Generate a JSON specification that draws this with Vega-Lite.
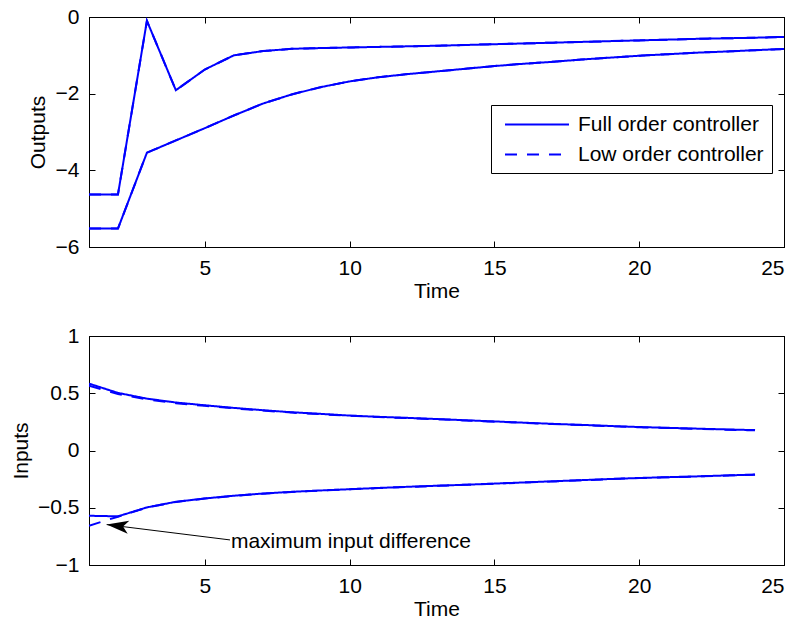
{
  "$schema": "https://vega.github.io/schema/vega-lite/v6.json",
  "background": "white",
  "padding": {"left": 10, "top": 5, "right": 10, "bottom": 4},
  "spacing": 22,
  "config": {
    "font": "Liberation Sans",
    "view": {"stroke": "black", "strokeWidth": 1},
    "axis": {
      "grid": false,
      "labelFont": "Liberation Sans",
      "titleFont": "Liberation Sans",
      "labelFontSize": 21,
      "titleFontSize": 21,
      "titleFontWeight": "normal",
      "labelColor": "black",
      "titleColor": "black",
      "domainColor": "black",
      "tickColor": "black",
      "tickSize": -6,
      "tickWidth": 1,
      "labelPadding": 16,
      "titlePadding": 2
    },
    "legend": {
      "labelFont": "Liberation Sans",
      "labelFontSize": 21,
      "labelColor": "black"
    }
  },
  "datasets": {
    "outputs": [
      {"t": 1, "y": -4.63, "s": "a", "ctrl": "Full order controller"},
      {"t": 2, "y": -4.63, "s": "a", "ctrl": "Full order controller"},
      {"t": 3, "y": -0.10, "s": "a", "ctrl": "Full order controller"},
      {"t": 4, "y": -1.91, "s": "a", "ctrl": "Full order controller"},
      {"t": 5, "y": -1.37, "s": "a", "ctrl": "Full order controller"},
      {"t": 6, "y": -1.00, "s": "a", "ctrl": "Full order controller"},
      {"t": 7, "y": -0.89, "s": "a", "ctrl": "Full order controller"},
      {"t": 8, "y": -0.83, "s": "a", "ctrl": "Full order controller"},
      {"t": 9, "y": -0.81, "s": "a", "ctrl": "Full order controller"},
      {"t": 10, "y": -0.795, "s": "a", "ctrl": "Full order controller"},
      {"t": 11, "y": -0.78, "s": "a", "ctrl": "Full order controller"},
      {"t": 12, "y": -0.765, "s": "a", "ctrl": "Full order controller"},
      {"t": 13, "y": -0.75, "s": "a", "ctrl": "Full order controller"},
      {"t": 14, "y": -0.73, "s": "a", "ctrl": "Full order controller"},
      {"t": 15, "y": -0.71, "s": "a", "ctrl": "Full order controller"},
      {"t": 16, "y": -0.69, "s": "a", "ctrl": "Full order controller"},
      {"t": 17, "y": -0.67, "s": "a", "ctrl": "Full order controller"},
      {"t": 18, "y": -0.65, "s": "a", "ctrl": "Full order controller"},
      {"t": 19, "y": -0.63, "s": "a", "ctrl": "Full order controller"},
      {"t": 20, "y": -0.61, "s": "a", "ctrl": "Full order controller"},
      {"t": 21, "y": -0.59, "s": "a", "ctrl": "Full order controller"},
      {"t": 22, "y": -0.57, "s": "a", "ctrl": "Full order controller"},
      {"t": 23, "y": -0.555, "s": "a", "ctrl": "Full order controller"},
      {"t": 24, "y": -0.54, "s": "a", "ctrl": "Full order controller"},
      {"t": 25, "y": -0.52, "s": "a", "ctrl": "Full order controller"},
      {"t": 1, "y": -5.52, "s": "b", "ctrl": "Full order controller"},
      {"t": 2, "y": -5.52, "s": "b", "ctrl": "Full order controller"},
      {"t": 3, "y": -3.54, "s": "b", "ctrl": "Full order controller"},
      {"t": 4, "y": -3.22, "s": "b", "ctrl": "Full order controller"},
      {"t": 5, "y": -2.90, "s": "b", "ctrl": "Full order controller"},
      {"t": 6, "y": -2.57, "s": "b", "ctrl": "Full order controller"},
      {"t": 7, "y": -2.26, "s": "b", "ctrl": "Full order controller"},
      {"t": 8, "y": -2.02, "s": "b", "ctrl": "Full order controller"},
      {"t": 9, "y": -1.83, "s": "b", "ctrl": "Full order controller"},
      {"t": 10, "y": -1.68, "s": "b", "ctrl": "Full order controller"},
      {"t": 11, "y": -1.57, "s": "b", "ctrl": "Full order controller"},
      {"t": 12, "y": -1.49, "s": "b", "ctrl": "Full order controller"},
      {"t": 13, "y": -1.42, "s": "b", "ctrl": "Full order controller"},
      {"t": 14, "y": -1.35, "s": "b", "ctrl": "Full order controller"},
      {"t": 15, "y": -1.28, "s": "b", "ctrl": "Full order controller"},
      {"t": 16, "y": -1.22, "s": "b", "ctrl": "Full order controller"},
      {"t": 17, "y": -1.17, "s": "b", "ctrl": "Full order controller"},
      {"t": 18, "y": -1.11, "s": "b", "ctrl": "Full order controller"},
      {"t": 19, "y": -1.06, "s": "b", "ctrl": "Full order controller"},
      {"t": 20, "y": -1.01, "s": "b", "ctrl": "Full order controller"},
      {"t": 21, "y": -0.97, "s": "b", "ctrl": "Full order controller"},
      {"t": 22, "y": -0.93, "s": "b", "ctrl": "Full order controller"},
      {"t": 23, "y": -0.90, "s": "b", "ctrl": "Full order controller"},
      {"t": 24, "y": -0.865, "s": "b", "ctrl": "Full order controller"},
      {"t": 25, "y": -0.835, "s": "b", "ctrl": "Full order controller"},
      {"t": 1, "y": -4.63, "s": "a", "ctrl": "Low order controller"},
      {"t": 2, "y": -4.63, "s": "a", "ctrl": "Low order controller"},
      {"t": 3, "y": -0.10, "s": "a", "ctrl": "Low order controller"},
      {"t": 4, "y": -1.91, "s": "a", "ctrl": "Low order controller"},
      {"t": 5, "y": -1.37, "s": "a", "ctrl": "Low order controller"},
      {"t": 6, "y": -1.00, "s": "a", "ctrl": "Low order controller"},
      {"t": 7, "y": -0.89, "s": "a", "ctrl": "Low order controller"},
      {"t": 8, "y": -0.83, "s": "a", "ctrl": "Low order controller"},
      {"t": 9, "y": -0.81, "s": "a", "ctrl": "Low order controller"},
      {"t": 10, "y": -0.795, "s": "a", "ctrl": "Low order controller"},
      {"t": 11, "y": -0.78, "s": "a", "ctrl": "Low order controller"},
      {"t": 12, "y": -0.765, "s": "a", "ctrl": "Low order controller"},
      {"t": 13, "y": -0.75, "s": "a", "ctrl": "Low order controller"},
      {"t": 14, "y": -0.73, "s": "a", "ctrl": "Low order controller"},
      {"t": 15, "y": -0.71, "s": "a", "ctrl": "Low order controller"},
      {"t": 16, "y": -0.69, "s": "a", "ctrl": "Low order controller"},
      {"t": 17, "y": -0.67, "s": "a", "ctrl": "Low order controller"},
      {"t": 18, "y": -0.65, "s": "a", "ctrl": "Low order controller"},
      {"t": 19, "y": -0.63, "s": "a", "ctrl": "Low order controller"},
      {"t": 20, "y": -0.61, "s": "a", "ctrl": "Low order controller"},
      {"t": 21, "y": -0.59, "s": "a", "ctrl": "Low order controller"},
      {"t": 22, "y": -0.57, "s": "a", "ctrl": "Low order controller"},
      {"t": 23, "y": -0.555, "s": "a", "ctrl": "Low order controller"},
      {"t": 24, "y": -0.54, "s": "a", "ctrl": "Low order controller"},
      {"t": 25, "y": -0.52, "s": "a", "ctrl": "Low order controller"},
      {"t": 1, "y": -5.52, "s": "b", "ctrl": "Low order controller"},
      {"t": 2, "y": -5.52, "s": "b", "ctrl": "Low order controller"},
      {"t": 3, "y": -3.54, "s": "b", "ctrl": "Low order controller"},
      {"t": 4, "y": -3.22, "s": "b", "ctrl": "Low order controller"},
      {"t": 5, "y": -2.90, "s": "b", "ctrl": "Low order controller"},
      {"t": 6, "y": -2.57, "s": "b", "ctrl": "Low order controller"},
      {"t": 7, "y": -2.26, "s": "b", "ctrl": "Low order controller"},
      {"t": 8, "y": -2.02, "s": "b", "ctrl": "Low order controller"},
      {"t": 9, "y": -1.83, "s": "b", "ctrl": "Low order controller"},
      {"t": 10, "y": -1.68, "s": "b", "ctrl": "Low order controller"},
      {"t": 11, "y": -1.57, "s": "b", "ctrl": "Low order controller"},
      {"t": 12, "y": -1.49, "s": "b", "ctrl": "Low order controller"},
      {"t": 13, "y": -1.42, "s": "b", "ctrl": "Low order controller"},
      {"t": 14, "y": -1.35, "s": "b", "ctrl": "Low order controller"},
      {"t": 15, "y": -1.28, "s": "b", "ctrl": "Low order controller"},
      {"t": 16, "y": -1.22, "s": "b", "ctrl": "Low order controller"},
      {"t": 17, "y": -1.17, "s": "b", "ctrl": "Low order controller"},
      {"t": 18, "y": -1.11, "s": "b", "ctrl": "Low order controller"},
      {"t": 19, "y": -1.06, "s": "b", "ctrl": "Low order controller"},
      {"t": 20, "y": -1.01, "s": "b", "ctrl": "Low order controller"},
      {"t": 21, "y": -0.97, "s": "b", "ctrl": "Low order controller"},
      {"t": 22, "y": -0.93, "s": "b", "ctrl": "Low order controller"},
      {"t": 23, "y": -0.90, "s": "b", "ctrl": "Low order controller"},
      {"t": 24, "y": -0.865, "s": "b", "ctrl": "Low order controller"},
      {"t": 25, "y": -0.835, "s": "b", "ctrl": "Low order controller"}
    ],
    "inputs": [
      {"t": 1, "y": 0.584, "s": "a", "ctrl": "Full order controller"},
      {"t": 2, "y": 0.503, "s": "a", "ctrl": "Full order controller"},
      {"t": 3, "y": 0.453, "s": "a", "ctrl": "Full order controller"},
      {"t": 4, "y": 0.419, "s": "a", "ctrl": "Full order controller"},
      {"t": 5, "y": 0.395, "s": "a", "ctrl": "Full order controller"},
      {"t": 6, "y": 0.372, "s": "a", "ctrl": "Full order controller"},
      {"t": 7, "y": 0.352, "s": "a", "ctrl": "Full order controller"},
      {"t": 8, "y": 0.334, "s": "a", "ctrl": "Full order controller"},
      {"t": 9, "y": 0.320, "s": "a", "ctrl": "Full order controller"},
      {"t": 10, "y": 0.305, "s": "a", "ctrl": "Full order controller"},
      {"t": 11, "y": 0.294, "s": "a", "ctrl": "Full order controller"},
      {"t": 12, "y": 0.285, "s": "a", "ctrl": "Full order controller"},
      {"t": 13, "y": 0.275, "s": "a", "ctrl": "Full order controller"},
      {"t": 14, "y": 0.264, "s": "a", "ctrl": "Full order controller"},
      {"t": 15, "y": 0.254, "s": "a", "ctrl": "Full order controller"},
      {"t": 16, "y": 0.243, "s": "a", "ctrl": "Full order controller"},
      {"t": 17, "y": 0.233, "s": "a", "ctrl": "Full order controller"},
      {"t": 18, "y": 0.224, "s": "a", "ctrl": "Full order controller"},
      {"t": 19, "y": 0.214, "s": "a", "ctrl": "Full order controller"},
      {"t": 20, "y": 0.205, "s": "a", "ctrl": "Full order controller"},
      {"t": 21, "y": 0.198, "s": "a", "ctrl": "Full order controller"},
      {"t": 22, "y": 0.191, "s": "a", "ctrl": "Full order controller"},
      {"t": 23, "y": 0.184, "s": "a", "ctrl": "Full order controller"},
      {"t": 24, "y": 0.178, "s": "a", "ctrl": "Full order controller"},
      {"t": 1, "y": -0.570, "s": "b", "ctrl": "Full order controller"},
      {"t": 2, "y": -0.575, "s": "b", "ctrl": "Full order controller"},
      {"t": 3, "y": -0.497, "s": "b", "ctrl": "Full order controller"},
      {"t": 4, "y": -0.448, "s": "b", "ctrl": "Full order controller"},
      {"t": 5, "y": -0.419, "s": "b", "ctrl": "Full order controller"},
      {"t": 6, "y": -0.395, "s": "b", "ctrl": "Full order controller"},
      {"t": 7, "y": -0.376, "s": "b", "ctrl": "Full order controller"},
      {"t": 8, "y": -0.361, "s": "b", "ctrl": "Full order controller"},
      {"t": 9, "y": -0.349, "s": "b", "ctrl": "Full order controller"},
      {"t": 10, "y": -0.338, "s": "b", "ctrl": "Full order controller"},
      {"t": 11, "y": -0.327, "s": "b", "ctrl": "Full order controller"},
      {"t": 12, "y": -0.317, "s": "b", "ctrl": "Full order controller"},
      {"t": 13, "y": -0.308, "s": "b", "ctrl": "Full order controller"},
      {"t": 14, "y": -0.299, "s": "b", "ctrl": "Full order controller"},
      {"t": 15, "y": -0.289, "s": "b", "ctrl": "Full order controller"},
      {"t": 16, "y": -0.279, "s": "b", "ctrl": "Full order controller"},
      {"t": 17, "y": -0.269, "s": "b", "ctrl": "Full order controller"},
      {"t": 18, "y": -0.259, "s": "b", "ctrl": "Full order controller"},
      {"t": 19, "y": -0.249, "s": "b", "ctrl": "Full order controller"},
      {"t": 20, "y": -0.240, "s": "b", "ctrl": "Full order controller"},
      {"t": 21, "y": -0.233, "s": "b", "ctrl": "Full order controller"},
      {"t": 22, "y": -0.226, "s": "b", "ctrl": "Full order controller"},
      {"t": 23, "y": -0.218, "s": "b", "ctrl": "Full order controller"},
      {"t": 24, "y": -0.210, "s": "b", "ctrl": "Full order controller"},
      {"t": 1, "y": 0.565, "s": "a", "ctrl": "Low order controller"},
      {"t": 2, "y": 0.494, "s": "a", "ctrl": "Low order controller"},
      {"t": 3, "y": 0.447, "s": "a", "ctrl": "Low order controller"},
      {"t": 4, "y": 0.413, "s": "a", "ctrl": "Low order controller"},
      {"t": 5, "y": 0.390, "s": "a", "ctrl": "Low order controller"},
      {"t": 6, "y": 0.368, "s": "a", "ctrl": "Low order controller"},
      {"t": 7, "y": 0.349, "s": "a", "ctrl": "Low order controller"},
      {"t": 8, "y": 0.331, "s": "a", "ctrl": "Low order controller"},
      {"t": 9, "y": 0.317, "s": "a", "ctrl": "Low order controller"},
      {"t": 10, "y": 0.303, "s": "a", "ctrl": "Low order controller"},
      {"t": 11, "y": 0.292, "s": "a", "ctrl": "Low order controller"},
      {"t": 12, "y": 0.283, "s": "a", "ctrl": "Low order controller"},
      {"t": 13, "y": 0.273, "s": "a", "ctrl": "Low order controller"},
      {"t": 14, "y": 0.262, "s": "a", "ctrl": "Low order controller"},
      {"t": 15, "y": 0.252, "s": "a", "ctrl": "Low order controller"},
      {"t": 16, "y": 0.241, "s": "a", "ctrl": "Low order controller"},
      {"t": 17, "y": 0.231, "s": "a", "ctrl": "Low order controller"},
      {"t": 18, "y": 0.222, "s": "a", "ctrl": "Low order controller"},
      {"t": 19, "y": 0.212, "s": "a", "ctrl": "Low order controller"},
      {"t": 20, "y": 0.203, "s": "a", "ctrl": "Low order controller"},
      {"t": 21, "y": 0.196, "s": "a", "ctrl": "Low order controller"},
      {"t": 22, "y": 0.189, "s": "a", "ctrl": "Low order controller"},
      {"t": 23, "y": 0.182, "s": "a", "ctrl": "Low order controller"},
      {"t": 24, "y": 0.176, "s": "a", "ctrl": "Low order controller"},
      {"t": 1, "y": -0.657, "s": "b", "ctrl": "Low order controller"},
      {"t": 2, "y": -0.578, "s": "b", "ctrl": "Low order controller"},
      {"t": 3, "y": -0.499, "s": "b", "ctrl": "Low order controller"},
      {"t": 4, "y": -0.449, "s": "b", "ctrl": "Low order controller"},
      {"t": 5, "y": -0.420, "s": "b", "ctrl": "Low order controller"},
      {"t": 6, "y": -0.396, "s": "b", "ctrl": "Low order controller"},
      {"t": 7, "y": -0.377, "s": "b", "ctrl": "Low order controller"},
      {"t": 8, "y": -0.362, "s": "b", "ctrl": "Low order controller"},
      {"t": 9, "y": -0.350, "s": "b", "ctrl": "Low order controller"},
      {"t": 10, "y": -0.339, "s": "b", "ctrl": "Low order controller"},
      {"t": 11, "y": -0.328, "s": "b", "ctrl": "Low order controller"},
      {"t": 12, "y": -0.318, "s": "b", "ctrl": "Low order controller"},
      {"t": 13, "y": -0.309, "s": "b", "ctrl": "Low order controller"},
      {"t": 14, "y": -0.300, "s": "b", "ctrl": "Low order controller"},
      {"t": 15, "y": -0.290, "s": "b", "ctrl": "Low order controller"},
      {"t": 16, "y": -0.280, "s": "b", "ctrl": "Low order controller"},
      {"t": 17, "y": -0.270, "s": "b", "ctrl": "Low order controller"},
      {"t": 18, "y": -0.260, "s": "b", "ctrl": "Low order controller"},
      {"t": 19, "y": -0.250, "s": "b", "ctrl": "Low order controller"},
      {"t": 20, "y": -0.241, "s": "b", "ctrl": "Low order controller"},
      {"t": 21, "y": -0.234, "s": "b", "ctrl": "Low order controller"},
      {"t": 22, "y": -0.227, "s": "b", "ctrl": "Low order controller"},
      {"t": 23, "y": -0.219, "s": "b", "ctrl": "Low order controller"},
      {"t": 24, "y": -0.211, "s": "b", "ctrl": "Low order controller"}
    ],
    "arrow": [
      {"t": 5.87, "y": -0.781, "t2": 1.61, "y2": -0.647}
    ],
    "head": [
      {"t": 1.61, "y": -0.647}
    ],
    "note": [
      {"t": 5.9, "y": -0.855, "label": "maximum input difference"}
    ]
  },
  "vconcat": [
    {
      "width": 695,
      "height": 230,
      "layer": [
        {
          "data": {"name": "outputs"},
          "mark": {"type": "line", "color": "#0000ff", "strokeWidth": 2, "clip": true},
          "encoding": {
            "x": {"field": "t", "type": "quantitative", "scale": {"domain": [1, 25], "nice": false, "zero": false},
                  "axis": {"values": [5, 10, 15, 20, 25], "title": "Time", "orient": "bottom"}},
            "y": {"field": "y", "type": "quantitative", "scale": {"domain": [-6, 0], "nice": false, "zero": false},
                  "axis": {"values": [-6, -4, -2, 0], "format": "~g", "title": "Outputs", "orient": "left", "titlePadding": 7}},
            "detail": {"field": "s"},
            "strokeDash": {
              "field": "ctrl", "type": "nominal",
              "scale": {"domain": ["Full order controller", "Low order controller"], "range": [[1, 0], [12, 10]]},
              "legend": {
                "title": null,
                "orient": "none",
                "legendX": 402,
                "legendY": 88,
                "strokeColor": "black",
                "fillColor": "white",
                "padding": 8,
                "rowPadding": 8,
                "symbolType": "M-0.524,0 L5.57,0",
                "symbolSize": 441,
                "symbolStrokeWidth": 2,
                "symbolStrokeColor": "#0000ff",
                "symbolFillColor": "transparent",
                "labelOffset": 56,
                "labelLimit": 400,
                "labelFontSize": 21
              }
            }
          }
        },
        {
          "data": {"name": "outputs"},
          "mark": {"type": "line", "opacity": 0},
          "encoding": {
            "x": {"field": "t", "type": "quantitative",
                  "axis": {"values": [5, 10, 15, 20, 25], "title": null, "orient": "top", "labels": false}},
            "y": {"field": "y", "type": "quantitative",
                  "axis": {"values": [-6, -4, -2, 0], "title": null, "orient": "right", "labels": false}},
            "detail": {"field": "s"}
          }
        }
      ],
      "resolve": {"axis": {"x": "independent", "y": "independent"}}
    },
    {
      "width": 695,
      "height": 229,
      "layer": [
        {
          "data": {"name": "inputs"},
          "mark": {"type": "line", "color": "#0000ff", "strokeWidth": 2, "clip": true},
          "encoding": {
            "x": {"field": "t", "type": "quantitative", "scale": {"domain": [1, 25], "nice": false, "zero": false},
                  "axis": {"values": [5, 10, 15, 20, 25], "title": "Time", "orient": "bottom"}},
            "y": {"field": "y", "type": "quantitative", "scale": {"domain": [-1, 1], "nice": false, "zero": false},
                  "axis": {"values": [-1, -0.5, 0, 0.5, 1], "format": "~g", "title": "Inputs", "orient": "left", "titlePadding": 6}},
            "detail": {"field": "s"},
            "strokeDash": {
              "field": "ctrl", "type": "nominal",
              "scale": {"domain": ["Full order controller", "Low order controller"], "range": [[1, 0], [12, 10]]},
              "legend": null
            }
          }
        },
        {
          "data": {"name": "arrow"},
          "mark": {"type": "rule", "color": "black", "strokeWidth": 1},
          "encoding": {
            "x": {"field": "t", "type": "quantitative", "axis": null},
            "y": {"field": "y", "type": "quantitative", "axis": null},
            "x2": {"field": "t2"},
            "y2": {"field": "y2"}
          }
        },
        {
          "data": {"name": "head"},
          "mark": {"type": "point", "shape": "M0,0 L2,-0.6 L1.5,0 L2,0.6 Z", "filled": true, "color": "black", "opacity": 1, "size": 484, "angle": 7},
          "encoding": {
            "x": {"field": "t", "type": "quantitative", "axis": null},
            "y": {"field": "y", "type": "quantitative", "axis": null}
          }
        },
        {
          "data": {"name": "note"},
          "mark": {"type": "text", "align": "left", "baseline": "alphabetic", "fontSize": 21, "font": "Liberation Sans", "color": "black"},
          "encoding": {
            "x": {"field": "t", "type": "quantitative", "axis": null},
            "y": {"field": "y", "type": "quantitative", "axis": null},
            "text": {"field": "label"}
          }
        },
        {
          "data": {"name": "inputs"},
          "mark": {"type": "line", "opacity": 0},
          "encoding": {
            "x": {"field": "t", "type": "quantitative",
                  "axis": {"values": [5, 10, 15, 20, 25], "title": null, "orient": "top", "labels": false}},
            "y": {"field": "y", "type": "quantitative",
                  "axis": {"values": [-1, -0.5, 0, 0.5, 1], "title": null, "orient": "right", "labels": false}},
            "detail": {"field": "s"}
          }
        }
      ],
      "resolve": {"axis": {"x": "independent", "y": "independent"}}
    }
  ]
}
